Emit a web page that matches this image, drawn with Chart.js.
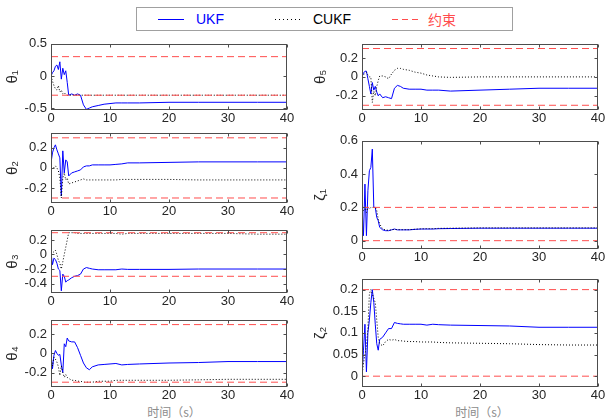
<!DOCTYPE html>
<html>
<head>
<meta charset="utf-8">
<script src="https://cdn.jsdelivr.net/npm/chart.js@4.4.1/dist/chart.umd.min.js"></script>
<style>
  body { margin: 0; background: #fff; }
  #wrap { position: relative; width: 607px; height: 418px; overflow: hidden; }
  canvas { position: absolute; }
  #legend { position: absolute; left: 136px; top: 7px; width: 377px; height: 24px;
            border: 1px solid #a0a0a0; box-sizing: border-box; background: #fff;
            font: 14px "Liberation Sans", Arial, sans-serif; }
  #legend .ln { position: absolute; top: 11px; width: 26px; height: 1px; }
  #legend .tx { position: absolute; top: 3px; line-height: 16px; }
  .xlab { position: absolute; top: 403px; width: 80px; text-align: center; color: #8c8c8c;
          font: 12px "Noto Sans CJK SC", sans-serif; }
</style>
</head>
<body>
<div id="wrap">
  <div id="legend">
    <span class="ln" style="left:21px;background:#0000ff"></span>
    <span class="tx" style="left:59px;color:#0000ff">UKF</span>
    <span class="ln" style="left:138px;background:repeating-linear-gradient(to right,#000 0 1px,transparent 1px 4px)"></span>
    <span class="tx" style="left:176px;color:#000">CUKF</span>
    <span class="ln" style="left:255px;background:repeating-linear-gradient(to right,#ff4d4d 0 6px,transparent 6px 10px)"></span>
    <span class="tx" style="left:291px;color:#ff4d4d;font-family:'Noto Sans CJK SC',sans-serif">约束</span>
  </div>
  <div class="xlab" style="left:134px">时间（s）</div>
  <div class="xlab" style="left:442px">时间（s）</div>
</div>
<script>
// gemeinsame Zeitachse (s)
const T = [0, 0.25, 0.5, 0.75, 1, 1.25, 1.5, 1.75, 2, 2.25, 2.5, 2.75, 3, 3.5, 4, 4.5, 5,
           5.5, 6, 6.5, 7, 8, 9, 10, 11, 12, 13, 15, 20, 25, 30, 35, 40];

const theta1UKF = [0, 0.05, 0.08, 0.15, 0.17, 0.1, 0.22, -0.05, 0.12, 0.02, 0.08, -0.1, -0.3, -0.28, -0.3, -0.28, -0.3,
                   -0.45, -0.52, -0.5, -0.48, -0.46, -0.44, -0.43, -0.42, -0.42, -0.42, -0.42, -0.41, -0.41, -0.41, -0.41, -0.41];
const theta1CUKF = [0, -0.08, -0.15, -0.2, -0.22, -0.15, -0.25, -0.22, -0.28, -0.26, -0.29, -0.3, -0.3, -0.3, -0.3, -0.3, -0.3,
                    -0.3, -0.3, -0.3, -0.3, -0.3, -0.3, -0.3, -0.3, -0.3, -0.3, -0.3, -0.3, -0.3, -0.3, -0.3, -0.3];

const theta2UKF = [0.05, 0.15, 0.2, 0.23, 0.18, 0.14, 0.1, -0.28, 0.17, -0.05, 0.08, 0.06, -0.08, -0.05, -0.04, -0.03, -0.02,
                   0.01, 0.02, 0.02, 0.03, 0.03, 0.03, 0.03, 0.035, 0.04, 0.05, 0.05, 0.055, 0.06, 0.06, 0.06, 0.06];
const theta2CUKF = [0, 0.01, 0, 0.02, 0, -0.03, -0.1, -0.3, -0.1, -0.05, -0.12, -0.1, -0.16, -0.15, -0.14, -0.13, -0.12,
                    -0.11, -0.12, -0.12, -0.12, -0.12, -0.12, -0.12, -0.12, -0.115, -0.115, -0.115, -0.115, -0.12, -0.12, -0.12, -0.12];

const theta3UKF = [0.02, -0.14, -0.05, -0.07, -0.12, -0.2, -0.22, -0.5, -0.27, -0.3, -0.38, -0.36, -0.35, -0.32, -0.3, -0.29, -0.27,
                   -0.2, -0.18, -0.19, -0.2, -0.21, -0.21, -0.21, -0.21, -0.2, -0.205, -0.205, -0.205, -0.2, -0.2, -0.2, -0.2];
const theta3CUKF = [0, 0.02, 0.04, 0.06, 0, -0.08, -0.12, -0.2, -0.1, 0, 0.1, 0.2, 0.3, 0.3, 0.3, 0.29, 0.29,
                    0.29, 0.29, 0.29, 0.29, 0.29, 0.29, 0.29, 0.29, 0.28, 0.29, 0.29, 0.29, 0.29, 0.29, 0.28, 0.28];

const theta4UKF = [0, -0.16, -0.02, 0.03, 0, -0.02, -0.01, -0.12, -0.2, 0.1, 0.07, 0.16, 0.13, 0.12, 0.12, 0.06, -0.02,
                   -0.1, -0.15, -0.17, -0.14, -0.12, -0.115, -0.11, -0.105, -0.12, -0.115, -0.11, -0.1, -0.095, -0.085, -0.085, -0.085];
const theta4CUKF = [-0.06, -0.13, -0.04, -0.06, -0.09, -0.14, -0.23, -0.13, -0.2, -0.25, -0.22, -0.25, -0.26, -0.28, -0.28, -0.29, -0.29,
                    -0.3, -0.3, -0.3, -0.3, -0.29, -0.29, -0.29, -0.28, -0.28, -0.28, -0.28, -0.28, -0.275, -0.27, -0.27, -0.27];

const theta5UKF = [0, 0.04, 0.06, 0.06, -0.02, -0.1, -0.18, -0.06, -0.14, -0.1, -0.16, -0.2, -0.18, -0.22, -0.21, -0.22, -0.23,
                   -0.12, -0.09, -0.1, -0.12, -0.13, -0.13, -0.13, -0.14, -0.14, -0.14, -0.15, -0.14, -0.13, -0.12, -0.12, -0.12];
const theta5CUKF = [0, 0.02, 0.04, 0.05, 0.02, 0, 0, -0.27, -0.15, -0.2, -0.1, -0.04, 0.01, 0.01, 0, -0.02, 0.03,
                    0.07, 0.09, 0.09, 0.08, 0.07, 0.05, 0.04, 0.02, 0.01, 0, -0.005, 0, 0, 0, 0, 0];

const zeta1UKF = [0.2, 0.03, 0.34, 0.03, 0.3, 0.42, 0.44, 0.55, 0.2, 0.2, 0.14, 0.12, 0.08, 0.065, 0.06, 0.06, 0.065,
                  0.07, 0.065, 0.065, 0.065, 0.065, 0.068, 0.07, 0.07, 0.07, 0.072, 0.073, 0.075, 0.075, 0.075, 0.075, 0.075];
const zeta1CUKF = [0.2, 0.18, 0.19, 0.17, 0.2, 0.19, 0.2, 0.2, 0.2, 0.2, 0.18, 0.13, 0.1, 0.07, 0.065, 0.062, 0.065,
                   0.068, 0.066, 0.066, 0.066, 0.066, 0.069, 0.071, 0.072, 0.072, 0.074, 0.075, 0.077, 0.077, 0.077, 0.077, 0.077];

const zeta2UKF = [0, 0.06, 0.12, 0.01, 0.1, 0.13, 0.17, 0.2, 0.17, 0.12, 0.075, 0.06, 0.085, 0.09, 0.1, 0.11, 0.11,
                  0.124, 0.122, 0.121, 0.12, 0.12, 0.12, 0.12, 0.118, 0.12, 0.119, 0.118, 0.117, 0.116, 0.113, 0.113, 0.113];
const zeta2CUKF = [0, 0.03, 0.05, 0.07, 0.11, 0.19, 0.2, 0.19, 0.18, 0.17, 0.13, 0.09, 0.075, 0.07, 0.08, 0.085, 0.083,
                   0.085, 0.082, 0.082, 0.081, 0.08, 0.08, 0.079, 0.079, 0.079, 0.078, 0.077, 0.076, 0.075, 0.073, 0.072, 0.072];

// Beschränkungen
const thetaLim = [-0.3, 0.3];
const zetaLim = [0, 0.2];
const xTicks = [0, 10, 20, 30, 40];

const FONT = '"Liberation Sans", Arial, sans-serif';
const PADT = 10, XH = 22, CW = 300;
const cols = [
  { left: 0, yw: 51, padR: 13, titlePad: 4 },
  { left: 307, yw: 55, padR: 9, titlePad: 5 }
];

const panels = [
  { col: 0, top: 42, bottom: 110, min: -0.53, max: 0.5, ticks: [-0.5, 0, 0.5], label: 'θ₁', ukf: theta1UKF, cukf: theta1CUKF, lim: thetaLim },
  { col: 0, top: 131, bottom: 203, min: -0.35, max: 0.35, ticks: [-0.2, 0, 0.2], label: 'θ₂', ukf: theta2UKF, cukf: theta2CUKF, lim: thetaLim },
  { col: 0, top: 228, bottom: 293, min: -0.53, max: 0.34, ticks: [-0.4, -0.2, 0, 0.2], label: 'θ₃', ukf: theta3UKF, cukf: theta3CUKF, lim: thetaLim },
  { col: 0, top: 318, bottom: 387, min: -0.35, max: 0.35, ticks: [-0.2, 0, 0.2], label: 'θ₄', ukf: theta4UKF, cukf: theta4CUKF, lim: thetaLim },
  { col: 1, top: 42, bottom: 110, min: -0.35, max: 0.35, ticks: [-0.2, 0, 0.2], label: 'θ₅', ukf: theta5UKF, cukf: theta5CUKF, lim: thetaLim },
  { col: 1, top: 139, bottom: 249, min: -0.05, max: 0.6, ticks: [0, 0.2, 0.4, 0.6], label: 'ζ₁', ukf: zeta1UKF, cukf: zeta1CUKF, lim: zetaLim },
  { col: 1, top: 277, bottom: 387, min: -0.025, max: 0.225, ticks: [0, 0.05, 0.1, 0.15, 0.2], label: 'ζ₂', ukf: zeta2UKF, cukf: zeta2CUKF, lim: zetaLim }
];

// Rahmen mit innenliegenden Ticks (wie MATLAB)
const frame = {
  id: 'frame',
  afterDatasetsDraw(chart) {
    const { ctx, chartArea: a, scales: { x, y } } = chart;
    const l = Math.round(a.left) + 0.5, r = Math.round(a.right) - 0.5;
    const t = Math.round(a.top) + 0.5, b = Math.round(a.bottom) - 0.5;
    ctx.save();
    ctx.strokeStyle = '#4d4d4d';
    ctx.lineWidth = 1;
    ctx.strokeRect(l, t, r - l, b - t);
    ctx.beginPath();
    x.ticks.forEach(tk => {
      const px = Math.round(x.getPixelForValue(tk.value)) + 0.5;
      ctx.moveTo(px, b); ctx.lineTo(px, b - 3);
      ctx.moveTo(px, t); ctx.lineTo(px, t + 3);
    });
    y.ticks.forEach(tk => {
      const py = Math.round(y.getPixelForValue(tk.value)) + 0.5;
      ctx.moveTo(l, py); ctx.lineTo(l + 3, py);
      ctx.moveTo(r, py); ctx.lineTo(r - 3, py);
    });
    ctx.stroke();
    ctx.restore();
  }
};

const pts = vals => vals.map((v, i) => ({ x: T[i], y: v }));
const hline = v => [{ x: 0, y: v }, { x: 40, y: v }];

const wrap = document.getElementById('wrap');
panels.forEach(p => {
  const c = cols[p.col];
  const h = p.bottom - p.top;
  const cv = document.createElement('canvas');
  cv.width = CW;
  cv.height = h + PADT + XH;
  cv.style.left = c.left + 'px';
  cv.style.top = (p.top - PADT) + 'px';
  wrap.appendChild(cv);

  const limStyle = { borderColor: '#ff4d4d', borderWidth: 1, borderDash: [7, 4], pointRadius: 0, order: 0 };
  new Chart(cv, {
    type: 'line',
    data: {
      datasets: [
        { data: hline(p.lim[0]), ...limStyle },
        { data: hline(p.lim[1]), ...limStyle },
        { data: pts(p.cukf), borderColor: '#000', borderWidth: 1, borderDash: [1, 2], pointRadius: 0, order: 1 },
        { data: pts(p.ukf), borderColor: '#0000ff', borderWidth: 1, pointRadius: 0, order: 2 }
      ]
    },
    options: {
      responsive: false,
      animation: false,
      devicePixelRatio: 1,
      layout: { padding: { top: PADT, right: c.padR, left: 0, bottom: 0 } },
      elements: { line: { tension: 0 } },
      plugins: { legend: { display: false }, tooltip: { enabled: false } },
      scales: {
        x: {
          type: 'linear', min: 0, max: 40,
          afterBuildTicks: s => { s.ticks = xTicks.map(v => ({ value: v })); },
          afterFit: s => { s.height = XH; },
          ticks: { autoSkip: false, maxRotation: 0, padding: 1, color: '#262626', font: { family: FONT, size: 13 } },
          grid: { display: false, drawTicks: false },
          border: { display: false }
        },
        y: {
          min: p.min, max: p.max,
          afterBuildTicks: s => { s.ticks = p.ticks.map(v => ({ value: v })); },
          afterFit: s => { s.width = c.yw; },
          ticks: { autoSkip: false, padding: 4, color: '#262626', font: { family: FONT, size: 13 },
                   callback: v => String(+v.toFixed(3)) },
          grid: { display: false, drawTicks: false },
          border: { display: false },
          title: { display: true, text: p.label, color: '#262626', font: { family: FONT, size: 15 },
                   padding: { top: c.titlePad, bottom: 0 } }
        }
      }
    },
    plugins: [frame]
  });
});
</script>
</body>
</html>
